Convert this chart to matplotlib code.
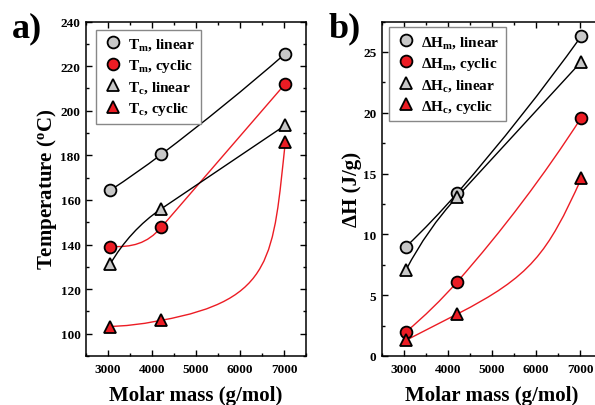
import numpy as np
import matplotlib
matplotlib.use('Agg')
import matplotlib.pyplot as plt
from matplotlib.path import Path
from matplotlib.patches import PathPatch
from matplotlib.ticker import MultipleLocator

plt.rcParams.update({
    'font.family': 'Liberation Serif',
    'font.weight': 'bold',
    'axes.labelweight': 'bold',
    'mathtext.fontset': 'custom',
    'mathtext.rm': 'Liberation Serif:bold',
    'mathtext.it': 'Liberation Serif:bold:italic',
    'mathtext.bf': 'Liberation Serif:bold',
})

# molar mass of the samples (g/mol)
mass = [3050, 4210, 7030]

# panel a) temperatures (degC)
tm_linear = [164.3, 180.4, 225.6]
tm_cyclic = [139.1, 147.7, 212.1]
tc_linear = [131.2, 156.0, 193.5]
tc_cyclic = [103.2, 106.0, 186.0]

# panel b) enthalpies (J/g)
hm_linear = [9.0, 13.4, 26.3]
hm_cyclic = [2.0, 6.1, 19.6]
hc_linear = [7.1, 13.1, 24.2]
hc_cyclic = [1.3, 3.45, 14.6]

RED = '#ec1c24'
GREY = '#c8c8c8'


def unit(v):
    return v / np.hypot(*v)


def smooth_path(ax, xs, ys, bias, tension):
    # cubic bezier through the points, built in display space
    pts = ax.transData.transform(np.column_stack([xs, ys]))
    d = np.diff(pts, axis=0)
    L = np.hypot(d[:, 0], d[:, 1])
    u = d / L[:, None]
    n = len(pts)
    tan = np.zeros_like(pts)
    for i in range(1, n - 1):
        tan[i] = unit((1 + bias) * u[i - 1] + (1 - bias) * u[i])
    tan[0] = unit(2 * u[0] - tan[1])
    tan[-1] = unit(2 * u[-1] - tan[-2])
    verts = [pts[0]]
    for i in range(n - 1):
        verts += [pts[i] + tan[i] * L[i] * tension,
                  pts[i + 1] - tan[i + 1] * L[i] * tension,
                  pts[i + 1]]
    codes = [Path.MOVETO] + [Path.CURVE4] * (3 * (n - 1))
    return Path(ax.transData.inverted().transform(verts), codes)


def style_axes(ax, ylim, major, minor):
    ax.set_xlim(2500, 7500)
    ax.set_ylim(*ylim)
    ax.xaxis.set_major_locator(MultipleLocator(1000))
    ax.xaxis.set_minor_locator(MultipleLocator(500))
    ax.yaxis.set_major_locator(MultipleLocator(major))
    ax.yaxis.set_minor_locator(MultipleLocator(minor))
    ax.tick_params(which='both', direction='in', top=True, right=True,
                   labelsize=9.5, width=1)
    ax.tick_params(which='major', length=4)
    ax.tick_params(which='minor', length=2.5)
    ax.tick_params(axis='x', pad=5)
    ax.tick_params(axis='y', pad=4)
    for s in ax.spines.values():
        s.set_linewidth(1.1)
    ax.set_xlabel('Molar mass (g/mol)', fontsize=15, labelpad=7)


def draw_series(ax, series):
    for ys, marker, face, line, bias, tension, label in series:
        path = smooth_path(ax, mass, ys, bias, tension)
        ax.add_patch(PathPatch(path, fill=False, edgecolor=line, lw=1.0, zorder=2))
        ax.plot(mass, ys, ls='none', marker=marker, ms=8.5, mfc=face, mec='black',
                mew=1.3, zorder=3, label=label)
    leg_kw = dict(loc='upper left', borderaxespad=0, fontsize=11, fancybox=False,
                  framealpha=1, edgecolor='#888888', handletextpad=0.3,
                  labelspacing=0.33, borderpad=0.42, handlelength=1.4)
    return leg_kw


fig = plt.figure(figsize=(5.95, 4.06), dpi=100)
ax1 = fig.add_axes([86 / 595, 49 / 406, 220 / 595, 334.5 / 406])
ax2 = fig.add_axes([382 / 595, 49 / 406, 220 / 595, 334.5 / 406])

style_axes(ax1, (90, 240), 20, 10)
style_axes(ax2, (0, 27.5), 5, 2.5)

kw = draw_series(ax1, [
    (tm_linear, 'o', GREY, 'black', 0.0, 1 / 3, r'T$_\mathrm{m}$, linear'),
    (tm_cyclic, 'o', RED, RED, -1.0, 0.4, r'T$_\mathrm{m}$, cyclic'),
    (tc_linear, '^', GREY, 'black', -1.0, 1 / 3, r'T$_\mathrm{c}$, linear'),
    (tc_cyclic, '^', RED, RED, 0.85, 0.53, r'T$_\mathrm{c}$, cyclic'),
])
leg = ax1.legend(bbox_to_anchor=(0.044, 0.975), **kw)
leg.get_frame().set_linewidth(1.0)

kw = draw_series(ax2, [
    (hm_linear, 'o', GREY, 'black', 0.0, 1 / 3, r'$\Delta$H$_\mathrm{m}$, linear'),
    (hm_cyclic, 'o', RED, RED, 0.0, 1 / 3, r'$\Delta$H$_\mathrm{m}$, cyclic'),
    (hc_linear, '^', GREY, 'black', -1.0, 1 / 3, r'$\Delta$H$_\mathrm{c}$, linear'),
    (hc_cyclic, '^', RED, RED, 1.0, 0.45, r'$\Delta$H$_\mathrm{c}$, cyclic'),
])
leg = ax2.legend(bbox_to_anchor=(0.03, 0.983), **kw)
leg.get_frame().set_linewidth(1.0)

ax1.set_ylabel(r'Temperature ($^\mathrm{o}$C)', fontsize=15, labelpad=1)
ax2.set_ylabel('ΔH (J/g)', fontsize=15, labelpad=1)

fig.text(12 / 595, 1 - 37 / 406, 'a)', fontsize=26, fontweight='bold', ha='left', va='baseline')
fig.text(329 / 595, 1 - 37 / 406, 'b)', fontsize=26, fontweight='bold', ha='left', va='baseline')

fig.savefig('out.png', dpi=100)
